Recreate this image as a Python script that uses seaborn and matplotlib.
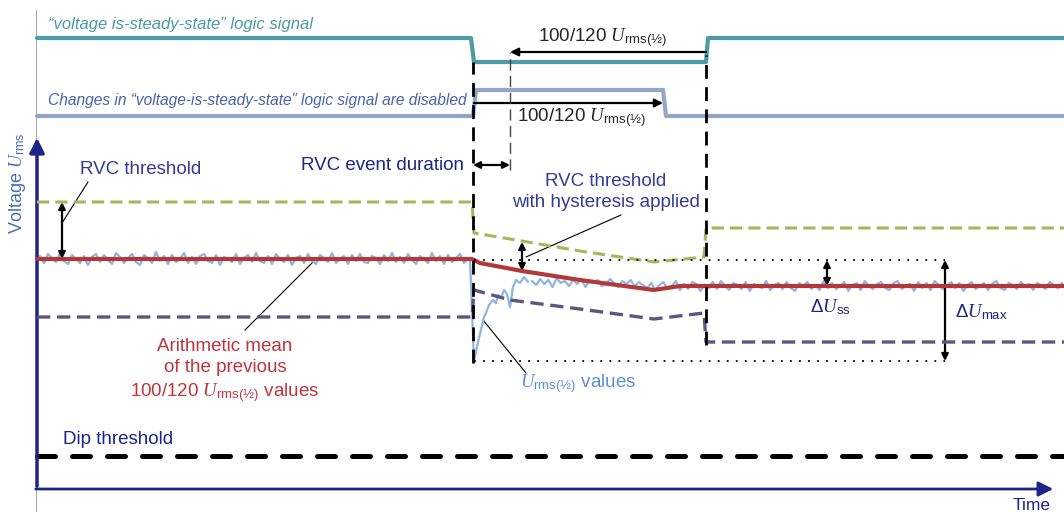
import numpy as np
import seaborn as sns
import matplotlib.pyplot as plt

sns.set_style('white')
plt.rcParams['font.family'] = ['Liberation Sans', 'DejaVu Sans']
plt.rcParams['mathtext.fontset'] = 'custom'
plt.rcParams['mathtext.rm'] = 'Liberation Sans'
plt.rcParams['mathtext.it'] = 'Liberation Serif:italic'

# diagram units: time along x, level along y (schematic, arbitrary units)
# logic signals
steady_t = [37, 471, 474, 706, 708, 1064]
steady_v = [474, 474, 450, 450, 474, 474]
disabled_t = [37, 473, 476, 663, 666, 1064]
disabled_v = [396, 396, 422, 422, 396, 396]

# RVC upper threshold, mean of previous 100/120 values, lower threshold
upper_t = [37, 472, 474, 522, 580, 654, 704, 706, 1064]
upper_v = [310, 310, 279, 271, 261, 250, 255, 284, 284]
mean_t = [37, 472, 480, 522, 580, 654, 680, 706, 1064]
mean_v = [253, 253, 249, 241, 232, 222, 226, 226, 226]
lower_t = [37, 472, 474, 510, 580, 654, 704, 706, 1064]
lower_v = [195, 195, 222, 212, 203, 193, 199, 170, 170]

# Urms(1/2) values
pre_level = 253
pre_noise = [3, -4, 5, 1, -3, 6, -2, -5, 4, 0, -4, 3, -6, 2, 5, -3, 4, -1, -5, 6,
             2, -4, 1, 5, -3, -6, 4, 1, -4, 7, -2, 3, -5, 4, -3, 0, 6, -4, 2, -5,
             3, 5, -2, -4, 4, -6, 2, 0, -3, 5, -5, 1, 4, -3, 6, -2, -4, 3, -5, 5,
             0, -3, 4, -6, 1, 3, -4, 5, -2, -5, 4, 1, -3, 6, -4, 0, 3, -5, 4, -2,
             5, -3, -4, 3, 1, -5, 4, -2, 6, -3, 2, -4, 5, -1, -5, 3, 0, -4, 6, -2,
             3, -5, 4, -3, 1, 5, -4, 0]
dip_t = [470, 474, 478, 481, 484, 486, 489, 493, 496, 498, 501, 504, 507, 510,
         513, 516, 520, 524, 528]
dip_v = [253, 151, 170, 182, 195, 199, 207, 212, 209, 217, 214, 222, 218, 205,
         225, 232, 229, 235, 230]
post_level = 226
post_noise = [5, 1, 7, 2, 6, -1, 8, 3, 5, 0, 6, 2, 7, -1, 5, 3, 6, 0, 2, 7, 3, -1, 5, 2,
              6, 0, 4, 1,
              -2, 3, -4, 1, 4, -3, 0, 5, -4, 2, -3, 4, 2, -5, 1, -2, 4, -3, 5, 0,
              -4, 3, 1, -3, 4, -5, 2, 0, -2, 5, -4, 1, 3, -3, 4, -2, -5, 3, 0, 4,
              -3, 1, -4, 5, -2, 3, -3, 0, 4, -5, 1, 3, -4, 5, 0, -3, 2, 4, -2, -4,
              3, 5, -3, 0, 2, -5, 4, -2, 3, -4, 5, 1, -3, 0, 4, -2, 3, -5, 1, 4,
              -3, 0, 3, -4, 2, 5, -2, -4, 3, 1, -3, 4, -1, 2, -4, 3, 0, -3, 4, 1,
              -2, 3]

dip_thr_t = [37, 1064]
dip_thr_v = [56, 56]

# reference levels for dU_ss / dU_max
ref_t = [474, 945]
ref_top = 252
ref_bottom = 151

# event marks
t_start = 473
t_half = 510
t_disable_end = 663
t_end = 706

teal = '#4b9ca6'
grey_blue = '#93a6c4'
green = '#a9b55c'
purple = '#5e5680'
red = '#b3383a'
light_blue = '#8fb5e0'
navy = '#1c2487'
label_blue = '#333b98'

fig = plt.figure(figsize=(10.64, 5.12), dpi=100)
ax = fig.add_axes([0, 0, 1, 1])
ax.set_xlim(0, 1064)
ax.set_ylim(0, 512)
ax.axis('off')

# thin frame line on the left
ax.plot([36, 36], [0, 502], color='#aaaaaa', lw=0.8, zorder=1)

# logic signals
sns.lineplot(x=steady_t, y=steady_v, sort=False, estimator=None, color=teal, lw=3, ax=ax)
sns.lineplot(x=disabled_t, y=disabled_v, sort=False, estimator=None, color=grey_blue, lw=3, ax=ax)

# Urms noise
pre_t = np.linspace(40, 468, len(pre_noise))
post_t = np.linspace(532, 1062, len(post_noise))
sns.lineplot(x=pre_t, y=pre_level + np.array(pre_noise), sort=False, estimator=None,
             color=light_blue, lw=1.6, ax=ax, zorder=3)
sns.lineplot(x=dip_t, y=dip_v, sort=False, estimator=None, color=light_blue, lw=1.6, ax=ax, zorder=3)
sns.lineplot(x=post_t, y=post_level + np.array(post_noise), sort=False, estimator=None,
             color=light_blue, lw=1.6, ax=ax, zorder=3)

# thresholds and mean
sns.lineplot(x=upper_t, y=upper_v, sort=False, estimator=None, color=green, lw=2.2,
             linestyle=(0, (4, 2)), ax=ax, zorder=4)
sns.lineplot(x=lower_t, y=lower_v, sort=False, estimator=None, color=purple, lw=2.4,
             linestyle=(0, (4, 2)), ax=ax, zorder=4)
sns.lineplot(x=mean_t, y=mean_v, sort=False, estimator=None, color=red, lw=3, ax=ax, zorder=5)

# dip threshold
sns.lineplot(x=dip_thr_t, y=dip_thr_v, estimator=None, color='black', lw=3.6,
             linestyle=(0, (3.6, 3.4)), dash_capstyle='round', ax=ax)

# dotted reference lines
ax.plot(ref_t, [ref_top, ref_top], color='black', lw=1.3, linestyle=(0, (1, 4)), zorder=6)
ax.plot(ref_t, [ref_bottom, ref_bottom], color='black', lw=1.3, linestyle=(0, (1, 4)), zorder=6)

# vertical event lines
ax.plot([t_start, t_start], [149, 450], color='black', lw=2, linestyle=(0, (5, 3)), zorder=7)
ax.plot([t_end, t_end], [167, 457], color='black', lw=2, linestyle=(0, (5, 3)), zorder=7)
ax.plot([t_half, t_half], [342, 460], color='#444444', lw=1, linestyle=(0, (8, 4)), zorder=7)

# axes arrows
ax.annotate('', xy=(1056, 23), xytext=(33, 23),
            arrowprops=dict(arrowstyle='-|>', color=navy, lw=2, mutation_scale=22))
ax.annotate('', xy=(37, 377), xytext=(37, 23),
            arrowprops=dict(arrowstyle='-|>', color=navy, lw=2.5, mutation_scale=22))

dbl = dict(arrowstyle='<|-|>', color='black', lw=1.6, mutation_scale=10, shrinkA=0, shrinkB=0)
ax.annotate('', xy=(t_half, 460), xytext=(t_end, 460),
            arrowprops=dict(arrowstyle='-|>', color='black', lw=1.6, mutation_scale=12, shrinkA=0, shrinkB=0))
ax.annotate('', xy=(t_disable_end, 409), xytext=(t_start + 1, 409),
            arrowprops=dict(arrowstyle='-|>', color='black', lw=1.6, mutation_scale=12, shrinkA=0, shrinkB=0))
ax.annotate('', xy=(t_start, 347), xytext=(t_half, 347), arrowprops=dbl)
ax.annotate('', xy=(62, 310), xytext=(62, 253), arrowprops=dbl)
ax.annotate('', xy=(522, 270), xytext=(522, 241), arrowprops=dbl)
ax.annotate('', xy=(827, ref_top), xytext=(827, post_level), arrowprops=dbl)
ax.annotate('', xy=(945, ref_top), xytext=(945, ref_bottom), arrowprops=dbl)

# leader lines
lead = dict(color='black', lw=0.8)
ax.plot([88, 62], [330, 289], **lead)
ax.plot([315, 245], [252, 182], **lead)
ax.plot([526, 621], [255, 297], **lead)
ax.plot([483, 526], [192, 139], **lead)

urms = r'$U_{\mathrm{rms(½)}}$'

ax.text(48, 488, '\u201cvoltage is-steady-state\u201d logic signal', color='#4a9aa6',
        fontsize=12, style='italic', va='center')
ax.text(48, 411, 'Changes in \u201cvoltage-is-steady-state\u201d logic signal are disabled',
        color='#4863ab', fontsize=11.2, style='italic', va='center')
ax.text(603, 474, '100/120 ' + urms, fontsize=13.5, ha='center', va='center')
ax.text(582, 394, '100/120 ' + urms, fontsize=13.5, ha='center', va='center')
ax.text(464, 347, 'RVC event duration', color=navy, fontsize=13.5, ha='right', va='center')
ax.text(80, 343, 'RVC threshold', color=label_blue, fontsize=13.5, va='center')
ax.text(606, 320, 'RVC threshold\nwith hysteresis applied', color=label_blue, fontsize=13.5,
        ha='center', va='center', linespacing=1.3)
ax.text(810, 205, r'$\Delta U_{\mathrm{ss}}$', color=navy, fontsize=13.5, va='center')
ax.text(955, 200, r'$\Delta U_{\mathrm{max}}$', color=navy, fontsize=13.5, va='center')
ax.text(225, 141, 'Arithmetic mean\nof the previous\n100/120 ' + urms + ' values', color='#c0343c',
        fontsize=13.5, ha='center', va='center', linespacing=1.32)
ax.text(520, 128, urms + ' values', color='#5b8fd8', fontsize=13.5, va='center')
ax.text(63, 72, 'Dip threshold', color=navy, fontsize=13.5, va='center')
ax.text(1032, 6, 'Time', color=navy, fontsize=12.5, ha='center', va='center')
ax.text(18, 329, r'Voltage $U_{\mathrm{rms}}$', color='#4a6fb5', fontsize=13,
        rotation=90, ha='center', va='center')

fig.savefig('out.png', dpi=100)
